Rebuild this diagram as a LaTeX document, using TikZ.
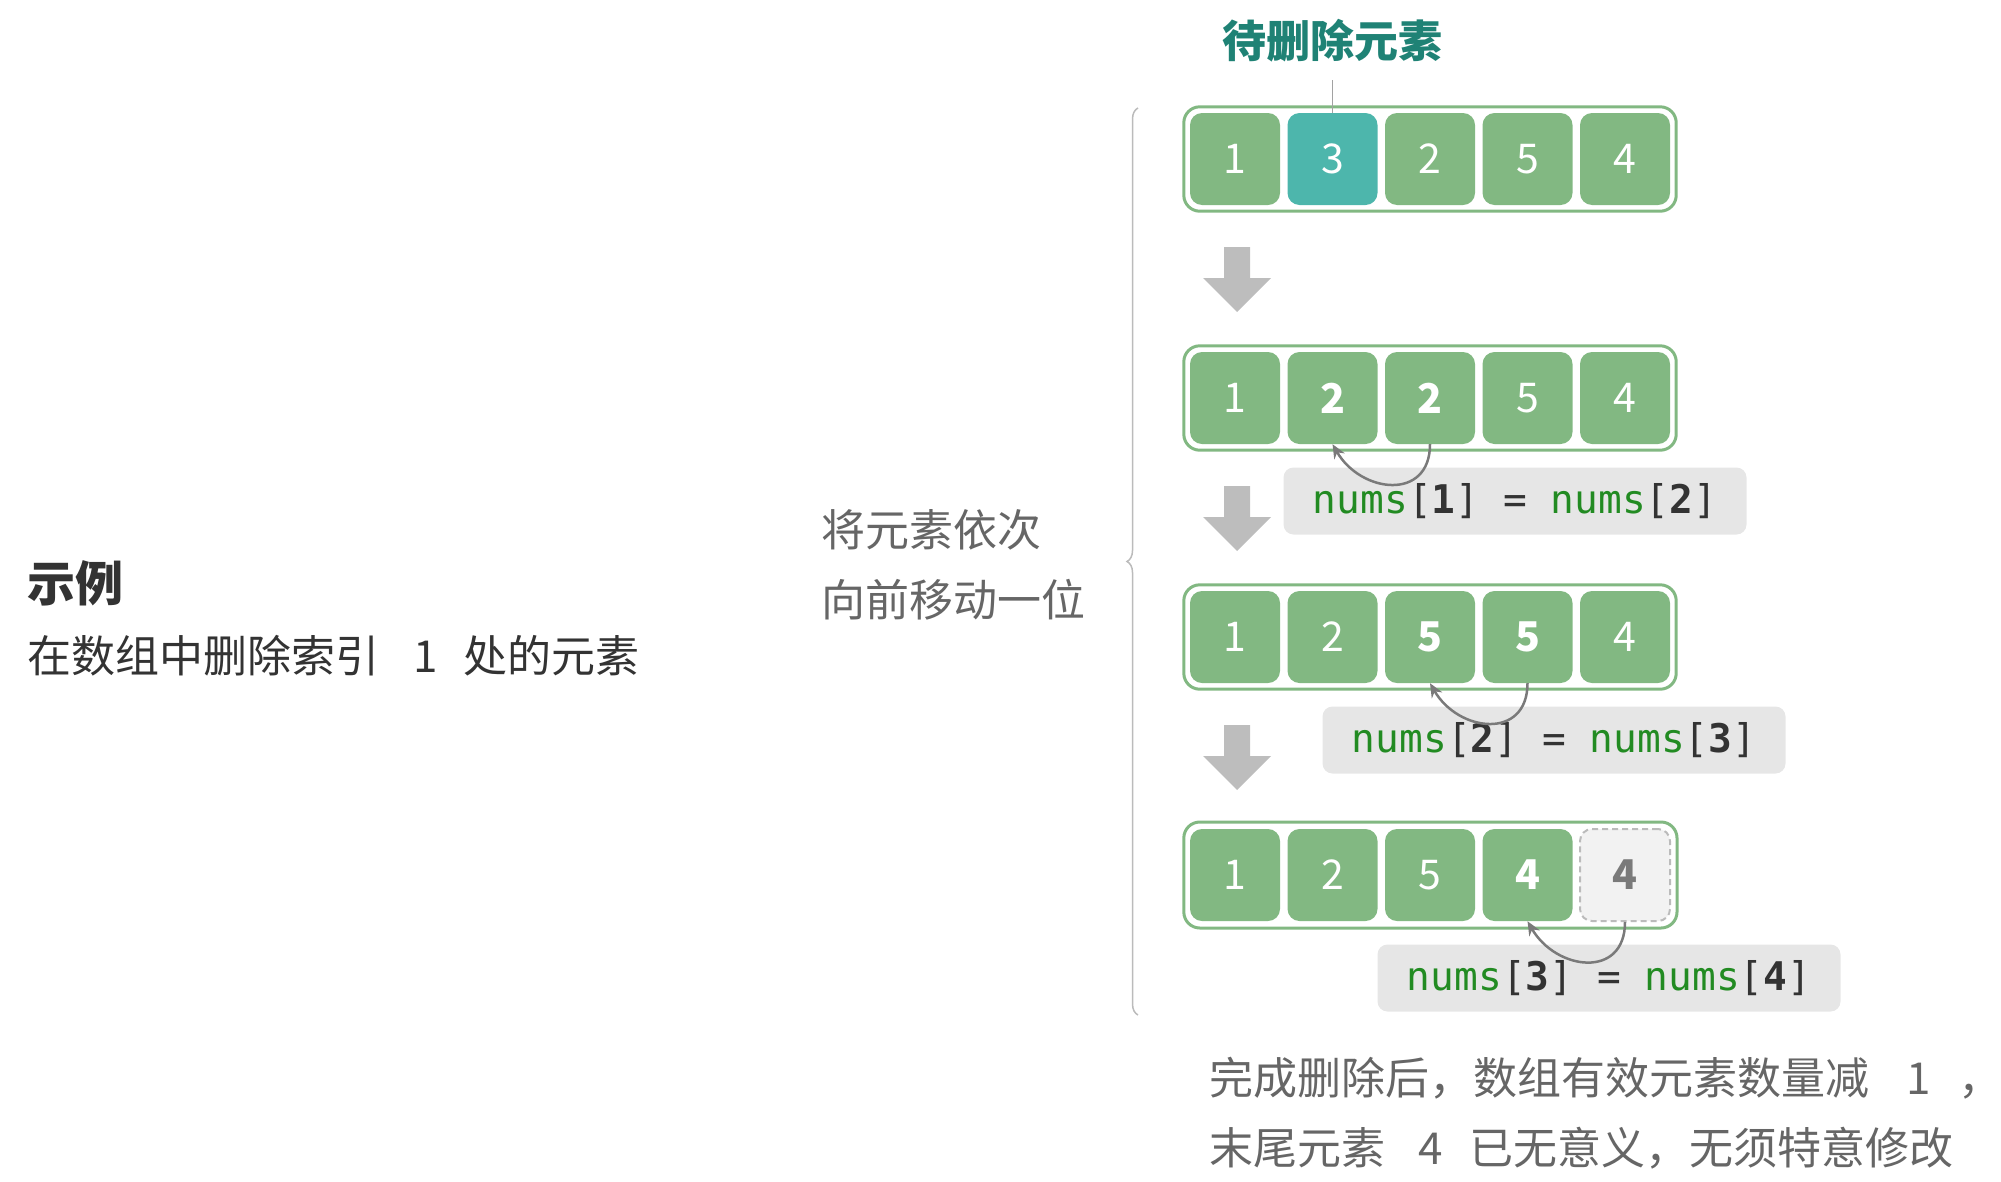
\documentclass[tikz,border=0pt]{standalone}
\usepackage{fontspec}
\setmainfont{Noto Sans CJK SC}
\newfontfamily\codefont{DejaVu Sans Mono}
\usetikzlibrary{calc}
\usetikzlibrary{fit}
\usetikzlibrary{arrows.meta}
\usetikzlibrary{decorations.pathreplacing}

\definecolor{cellgreen}{HTML}{82B882}
\definecolor{tealcell}{HTML}{4DB6AC}
\definecolor{tagteal}{HTML}{1F8275}
\definecolor{arrowgrey}{HTML}{BDBDBD}
\definecolor{codebg}{HTML}{E6E6E6}
\definecolor{codegreen}{HTML}{228B22}
\definecolor{txtdark}{HTML}{333333}
\definecolor{txtgrey}{HTML}{666666}
\definecolor{linkgrey}{HTML}{7A7A7A}
\definecolor{bracegrey}{HTML}{BBBBBB}
\definecolor{sparefill}{HTML}{F2F2F2}

\newcommand{\numsat}[1]{{\color{codegreen}nums}[\textbf{#1}]}

\tikzset{
  cell/.style={rectangle, rounded corners=12pt, fill=cellgreen, text=white,
    minimum width=90pt, minimum height=92pt, inner sep=0pt,
    font=\fontsize{41}{41}\selectfont},
  hit/.style={cell, fill=tealcell},
  spare/.style={cell, fill=sparefill, draw=bracegrey, line width=2pt,
    dash pattern=on 6pt off 4pt, text=linkgrey},
  rowframe/.style={draw=cellgreen, line width=3pt, rounded corners=16pt, inner sep=6pt},
  codebox/.style={fill=codebg, rounded corners=10pt, minimum width=463pt,
    minimum height=67pt, text=txtdark, font=\codefont\fontsize{39.5}{40}\selectfont},
  link/.style={draw=linkgrey, line width=2.5pt, -{Stealth[length=14pt,width=12pt]}},
  pointer/.style={draw=linkgrey!70, line width=1.5pt},
  bracket/.style={decorate, decoration={brace, amplitude=11pt}, draw=bracegrey, line width=1.5pt},
  note/.style={anchor=west, inner sep=0pt, align=left, text=txtgrey,
    font=\fontsize{44}{70}\selectfont},
}

\begin{document}
\begin{tikzpicture}[x=1pt,y=-1pt]
  \useasboundingbox (0,0) rectangle (2001,1181);

  % the four states of the array
  \foreach \r/\y/\vals in {1/159/{1/cell,3/hit,2/cell,5/cell,4/cell},
      2/398/{1/cell,\textbf{2}/cell,\textbf{2}/cell,5/cell,4/cell},
      3/637/{1/cell,2/cell,\textbf{5}/cell,\textbf{5}/cell,4/cell},
      4/875/{1/cell,2/cell,5/cell,\textbf{4}/cell,\textbf{4}/spare}}
  {
    \foreach \v/\s [count=\c] in \vals
      \node[\s] (c-\r-\c) at ({1235+97.5*(\c-1)},\y) {\v};
    \node[rowframe, fit=(c-\r-1)(c-\r-5)] (row-\r) {};
  }

  \node[font=\bfseries\fontsize{44}{44}\selectfont, text=tagteal] (deltag) at (1332,41) {待删除元素};
  \coordinate (tagend) at (1332.5,80);
  \draw[pointer] (tagend) -- (c-1-2.north);

  % block arrows between the rows
  \foreach \r in {1,2,3}
    \fill[arrowgrey] ($(c-\r-1)+(-11,88)$) -- ++(26,0) -- ++(0,31) -- ++(21,0)
      -- ++(-34,34) -- ++(-34,-34) -- ++(21,0) -- cycle;

  \node[codebox] (code-1) at (1515,501) {\numsat{1} = \numsat{2}};
  \node[codebox] (code-2) at (1554,740) {\numsat{2} = \numsat{3}};
  \node[codebox] (code-3) at (1609,978) {\numsat{3} = \numsat{4}};

  \draw[link] (c-2-3.south) to[out=-90,in=-60,looseness=1.5] (c-2-2.south);
  \draw[link] (c-3-4.south) to[out=-90,in=-60,looseness=1.5] (c-3-3.south);
  \draw[link] (c-4-5.south) to[out=-90,in=-60,looseness=1.5] (c-4-4.south);

  \draw[bracket] (1138,1015) -- (1138,108);

  \node[anchor=west, inner sep=0pt, text=txtdark, font=\bfseries\fontsize{48}{48}\selectfont] (example) at (27,583) {示例};
  \node[anchor=west, inner sep=0pt, text=txtdark, font=\fontsize{44}{44}\selectfont] (task) at (27,656)
    {在数组中删除索引\hspace{34pt}1\hspace{26pt}处的元素};
  \node[note] (shiftnote) at (821,565) {将元素依次\\向前移动一位};
  \node[note] (endnote) at (1209,1113)
    {完成删除后，数组有效元素数量减\hspace{37pt}1\hspace{28pt}，\\末尾元素\hspace{33pt}4\hspace{27pt}已无意义，无须特意修改};
\end{tikzpicture}
\end{document}
